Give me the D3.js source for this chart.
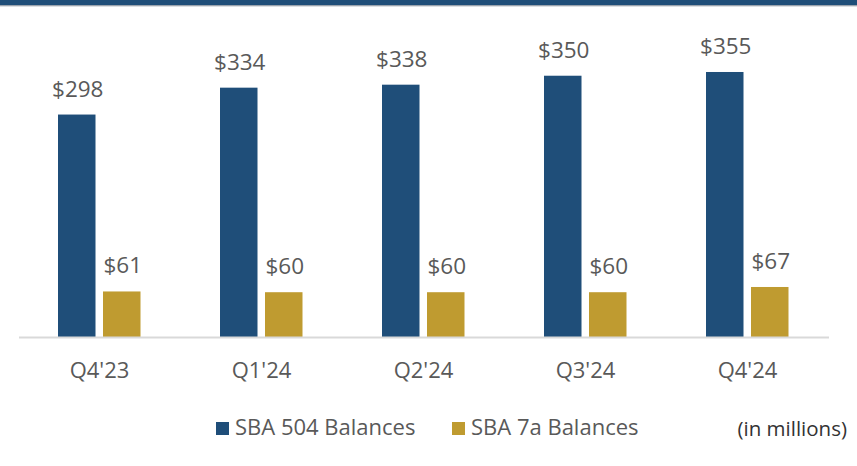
<!DOCTYPE html>
<html>
<head>
<meta charset="utf-8">
<script src="https://cdn.jsdelivr.net/npm/d3@7"></script>
<style>
  body { margin: 0; background: #fff; }
  svg { display: block; }
  text { font-family: "Open Sans", sans-serif; fill: #595959; }
</style>
</head>
<body>
<svg width="857" height="466"></svg>
<script>
var quarters = ["Q4'23", "Q1'24", "Q2'24", "Q3'24", "Q4'24"];
var seriesNames = ["SBA 504 Balances", "SBA 7a Balances"];
var sba504 = [298, 334, 338, 350, 355];
var sba7a = [61, 60, 60, 60, 67];
var colors = ["#1f4e79", "#bf9b30"];

var width = 857, height = 466;
var baseline = 337;

var svg = d3.select('svg');

// header band with a soft shadow under it
svg.append('rect').attr('width', width).attr('height', 5).attr('fill', '#1f4e79');
svg.append('rect').attr('y', 5).attr('width', width).attr('height', 1).attr('fill', '#9aa3ad');
svg.append('rect').attr('y', 6).attr('width', width).attr('height', 1).attr('fill', '#dcdfe3');

var x0 = d3.scaleBand()
  .domain(quarters)
  .range([18.5, 828.5]);

var x1 = d3.scaleBand()
  .domain(seriesNames)
  .range([39.5, 122])
  .paddingInner(1 / 6);

var y = d3.scaleLinear()
  .domain([0, 400])
  .range([baseline, 38.4]);

var rows = quarters.map((q, i) => ({
  q: q,
  vals: [sba504[i], sba7a[i]].map((v, j) => ({ name: seriesNames[j], v: v, c: colors[j] }))
}));

var groups = svg.append('g')
  .selectAll('g')
  .data(rows)
  .enter()
  .append('g')
  .attr('transform', d => `translate(${x0(d.q)},0)`);

groups.selectAll('rect')
  .data(d => d.vals)
  .enter()
  .append('rect')
  .attr('x', d => x1(d.name))
  .attr('width', x1.bandwidth())
  .attr('y', d => y(d.v))
  .attr('height', d => y(0) - y(d.v))
  .attr('fill', d => d.c);

groups.selectAll('text')
  .data(d => d.vals)
  .enter()
  .append('text')
  .attr('x', d => x1(d.name) + x1.bandwidth() / 2 + 1)
  .attr('y', d => y(d.v) - 18)
  .attr('text-anchor', 'middle')
  .style('font-size', '22.5px')
  .text(d => '$' + d.v);

// category axis
var axis = svg.append('g')
  .attr('transform', `translate(0,${baseline})`)
  .call(d3.axisBottom(x0).tickSize(0).tickSizeOuter(0));

axis.select('.domain').attr('stroke', '#d9d9d9').attr('stroke-width', 2);
axis.selectAll('text')
  .attr('dy', null)
  .attr('y', 41)
  .style('font-size', '22px')
  .style('font-family', '"Open Sans", sans-serif')
  .attr('fill', '#595959');

// legend
var legendX = [216, 452];
var legend = svg.append('g')
  .selectAll('g')
  .data(seriesNames)
  .enter()
  .append('g')
  .attr('transform', (d, i) => `translate(${legendX[i]},422)`);

legend.append('rect')
  .attr('width', 13)
  .attr('height', 13)
  .attr('fill', (d, i) => colors[i]);

legend.append('text')
  .attr('x', 19)
  .attr('y', 13)
  .style('font-size', '22px')
  .text(d => d);

svg.append('text')
  .attr('x', 847)
  .attr('y', 436)
  .attr('text-anchor', 'end')
  .style('font-size', '20.5px')
  .style('fill', '#333')
  .text('(in millions)');
</script>
</body>
</html>
